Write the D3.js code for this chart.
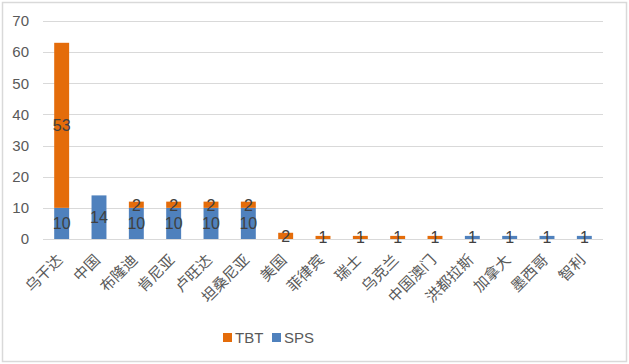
<!DOCTYPE html>
<html><head><meta charset="utf-8">
<script src="https://cdn.jsdelivr.net/npm/d3@7"></script>
<style>body{margin:0;background:#fff}svg{display:block}</style>
</head><body>
<script>
const categories = ["乌干达","中国","布隆迪","肯尼亚","卢旺达","坦桑尼亚","美国","菲律宾","瑞士","乌克兰","中国澳门","洪都拉斯","加拿大","墨西哥","智利"];
const spsValues = [10,14,10,10,10,10,0,0,0,0,0,1,1,1,1];
const tbtValues = [53,0,2,2,2,2,2,1,1,1,1,0,0,0,0];
const yTicks = [0,10,20,30,40,50,60,70];
const seriesNames = ["TBT","SPS"];

const W = 629, H = 364;
const colors = {TBT:"#E46C0A", SPS:"#4F81BD"};
const svg = d3.select("body").append("svg").attr("width",W).attr("height",H);
svg.append("rect").attr("x",2.5).attr("y",2.5).attr("width",W-5).attr("height",H-5)
  .attr("fill","#fff").attr("stroke","#D9D9D9").attr("stroke-width",1.5);

const m = {left:43, right:26, top:21, bottom:125};
const x = d3.scaleBand().domain(categories).range([m.left, W-m.right]).paddingInner(0.6).paddingOuter(0.3);
const y = d3.scaleLinear().domain([0,70]).range([H-m.bottom, m.top]);

const font = "Liberation Sans, Arial, sans-serif";
const txt = "#595959";

// grid
svg.append("g").selectAll("line").data(yTicks).join("line")
  .attr("x1",m.left).attr("x2",W-m.right)
  .attr("y1",d=>Math.round(y(d))+0.5).attr("y2",d=>Math.round(y(d))+0.5)
  .attr("stroke","#D9D9D9").attr("stroke-width",1);

// y axis labels
const yAxis = d3.axisLeft(y).tickValues(yTicks).tickSize(0).tickPadding(8);
const ga = svg.append("g").attr("transform",`translate(${m.left-6},0)`).call(yAxis);
ga.select(".domain").remove();
ga.selectAll("text").attr("font-family",font).attr("font-size",15).attr("fill",txt);

const data = categories.map((c,i)=>({cat:c, SPS:spsValues[i], TBT:tbtValues[i]}));
const stack = d3.stack().keys(["SPS","TBT"])(data);

stack.forEach(layer=>{
  const key = layer.key;
  svg.append("g").selectAll("rect").data(layer).join("rect")
    .attr("x",d=>x(d.data.cat)).attr("width",x.bandwidth())
    .attr("y",d=>y(d[1])).attr("height",d=>y(d[0])-y(d[1]))
    .attr("fill",colors[key]);
  svg.append("g").selectAll("text").data(layer.filter(d=>d.data[key]>0)).join("text")
    .attr("x",d=>x(d.data.cat)+x.bandwidth()/2)
    .attr("y",d=>(y(d[0])+y(d[1]))/2)
    .attr("dy","0.36em").attr("text-anchor","middle")
    .attr("font-family",font).attr("font-size",16).attr("fill","#404040")
    .text(d=>d.data[key]);
});

// x axis labels
const xAxis = d3.axisBottom(x).tickSize(0).tickPadding(0);
const gx = svg.append("g").attr("transform",`translate(0,${y(0)})`).call(xAxis);
gx.select(".domain").remove();
gx.selectAll("text")
  .attr("font-family","Noto Sans CJK SC, sans-serif").attr("font-size",15).attr("fill",txt)
  .attr("text-anchor","end").attr("dy",null).attr("y",0)
  .attr("transform","translate(2,22) rotate(-45)");

// legend
const lg = svg.append("g");
const legendItems = [{k:"TBT",x:223},{k:"SPS",x:272}];
legendItems.forEach(it=>{
  lg.append("rect").attr("x",it.x).attr("y",333).attr("width",9).attr("height",9).attr("fill",colors[it.k]);
  lg.append("text").attr("x",it.x+12).attr("y",338).attr("dy","0.36em")
    .attr("font-family",font).attr("font-size",15).attr("fill",txt).text(it.k);
});
</script>
</body></html>
